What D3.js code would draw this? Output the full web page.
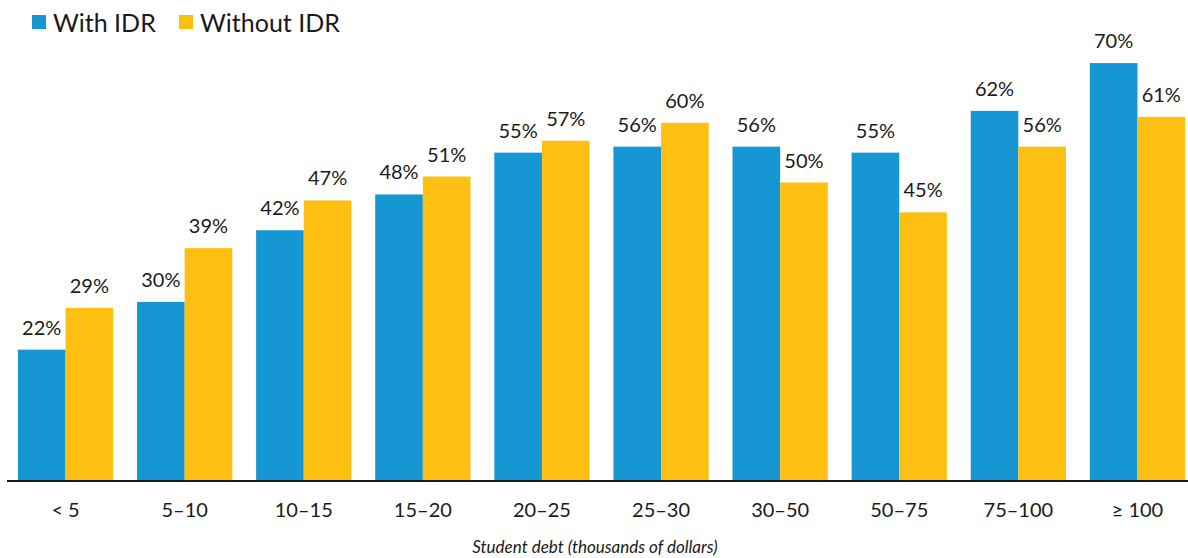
<!DOCTYPE html>
<html>
<head>
<meta charset="utf-8">
<script src="https://cdn.jsdelivr.net/npm/d3@7"></script>
<style>
  body { margin: 0; background: #fff; }
  text { font-family: Lato, sans-serif; fill: #1a1a1a; }
</style>
</head>
<body>
<div id="chart"></div>
<script>
// Data
const categories = ['< 5', '5\u201310', '10\u201315', '15\u201320', '20\u201325', '25\u201330', '30\u201350', '50\u201375', '75\u2013100', '\u2265 100']
const withIDR = [22, 30, 42, 48, 55, 56, 56, 55, 62, 70]
const withoutIDR = [29, 39, 47, 51, 57, 60, 50, 45, 56, 61]
const seriesNames = ['With IDR', 'Without IDR']
const colors = ['#1696d2', '#fdbf11']

const dataset = categories.map((c, i) => ({ cat: c, values: [withIDR[i], withoutIDR[i]] }))

// Dimension
const width = 1188
const height = 558
const baseline = 481

const svg = d3.select('#chart')
    .append('svg')
    .attr('width', width)
    .attr('height', height)

// Scales
const xScale = d3.scaleBand()
    .domain(categories)
    .range([6, 1197])
    .paddingInner(0.2)
    .paddingOuter(0.1)

const xSub = d3.scaleBand()
    .domain([0, 1])
    .range([0, xScale.bandwidth()])

const yScale = d3.scaleLinear()
    .domain([0, 80])
    .range([baseline, baseline - 5.97 * 80])

// Bars
const groups = svg.selectAll('g.group')
    .data(dataset)
    .join('g')
    .attr('class', 'group')
    .attr('transform', d => `translate(${xScale(d.cat)},0)`)

groups.selectAll('rect')
    .data(d => d.values)
    .join('rect')
    .attr('x', (d, i) => xSub(i))
    .attr('y', d => yScale(d))
    .attr('width', xSub.bandwidth())
    .attr('height', d => baseline - yScale(d))
    .attr('fill', (d, i) => colors[i])

groups.selectAll('text.val')
    .data(d => d.values)
    .join('text')
    .attr('class', 'val')
    .attr('x', (d, i) => xSub(i) + xSub.bandwidth() / 2)
    .attr('y', d => yScale(d) - 15)
    .attr('text-anchor', 'middle')
    .style('font-size', '20px')
    .text(d => d + '%')

// Axis
const xAxis = d3.axisBottom(xScale).tickSize(0).tickPadding(22)

const xAxisGroup = svg.append('g')
    .attr('transform', `translate(0,${baseline})`)
    .call(xAxis)

xAxisGroup.select('.domain')
    .attr('d', `M7,0H${width}`)
    .attr('stroke', '#1a1a1a')
    .attr('stroke-width', 2)

xAxisGroup.selectAll('.tick text')
    .style('font-family', 'Lato, sans-serif')
    .style('font-size', '20px')
    .attr('fill', '#1a1a1a')

svg.append('text')
    .attr('x', 595)
    .attr('y', 553)
    .attr('text-anchor', 'middle')
    .style('font-size', '17px')
    .style('font-style', 'italic')
    .text('Student debt (thousands of dollars)')

// Legend
const legendX = [32, 179]
const legend = svg.selectAll('g.legend')
    .data(seriesNames)
    .join('g')
    .attr('class', 'legend')
    .attr('transform', (d, i) => `translate(${legendX[i]},15)`)

legend.append('rect')
    .attr('width', 14)
    .attr('height', 14)
    .attr('fill', (d, i) => colors[i])

legend.append('text')
    .attr('x', 21)
    .attr('y', 17)
    .style('font-size', '25px')
    .text(d => d)
</script>
</body>
</html>
